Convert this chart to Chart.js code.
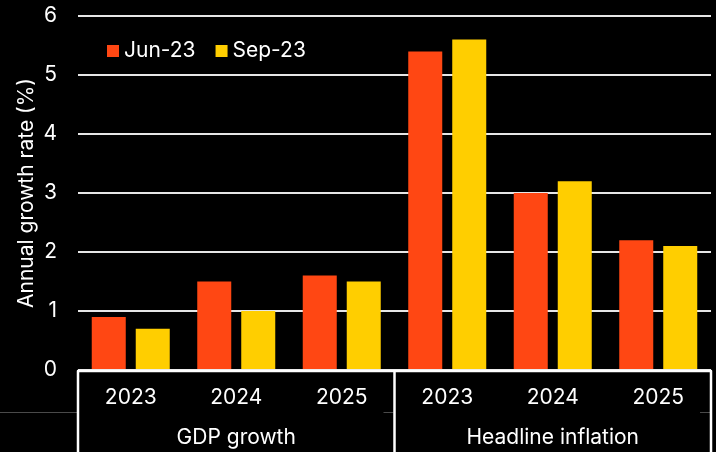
<!DOCTYPE html>
<html>
<head>
<meta charset="utf-8">
<script src="https://cdn.jsdelivr.net/npm/chart.js@4/dist/chart.umd.min.js"></script>
<style>
  html, body { margin: 0; padding: 0; background: #000; }
  #wrap { width: 716px; height: 452px; position: relative; }
</style>
</head>
<body>
<div id="wrap"><canvas id="c" width="716" height="452"></canvas></div>
<script>
// ---- Data ----
const categories = ['2023', '2024', '2025', '2023', '2024', '2025'];
const groups = ['GDP growth', 'Headline inflation'];
const groupSizes = [3, 3];
const seriesNames = ['Jun-23', 'Sep-23'];
const jun23 = [0.9, 1.5, 1.6, 5.4, 3.0, 2.2];
const sep23 = [0.7, 1.0, 1.5, 5.6, 3.2, 2.1];
const yTicks = [0, 1, 2, 3, 4, 5, 6];
const yTitle = 'Annual growth rate (%)';

// ---- Styles ----
const colors = ['#FF4713', '#FFCE00'];
const FONT = 'Inter, "Open Sans", sans-serif';
const WHITE = '#ffffff';

const boxPlugin = {
  id: 'boxPlugin',
  afterDraw(chart) {
    const ctx = chart.ctx;
    const ca = chart.chartArea;
    const xs = chart.scales.x;
    const H = chart.height;
    const bounds = [ca.left];
    let idx = 0;
    groupSizes.forEach((n) => {
      idx += n;
      if (idx < categories.length) {
        bounds.push((xs.getPixelForValue(idx - 1) + xs.getPixelForValue(idx)) / 2);
      } else {
        bounds.push(ca.right);
      }
    });
    ctx.save();
    // faint short lines
    ctx.strokeStyle = '#4a4a4a';
    ctx.lineWidth = 1;
    const fy = 412.5;
    ctx.beginPath();
    ctx.moveTo(0, fy); ctx.lineTo(ca.left - 1, fy);
    for (let i = 1; i < bounds.length; i++) {
      ctx.moveTo(bounds[i] - 11, fy); ctx.lineTo(bounds[i] - 1, fy);
    }
    ctx.stroke();
    // box
    ctx.strokeStyle = WHITE;
    ctx.lineWidth = 2.5;
    ctx.lineJoin = 'round';
    const top = ca.bottom + 1;
    ctx.beginPath();
    ctx.moveTo(bounds[0], H + 5);
    ctx.lineTo(bounds[0], top);
    ctx.lineTo(bounds[bounds.length - 1], top);
    ctx.lineTo(bounds[bounds.length - 1], H + 5);
    for (let i = 1; i < bounds.length - 1; i++) {
      ctx.moveTo(bounds[i], top);
      ctx.lineTo(bounds[i], H + 5);
    }
    ctx.stroke();
    // group labels
    ctx.fillStyle = WHITE;
    ctx.font = '21px ' + FONT;
    ctx.textAlign = 'center';
    ctx.textBaseline = 'middle';
    groups.forEach((g, i) => {
      ctx.fillText(g, (bounds[i] + bounds[i + 1]) / 2, 438);
    });
    // legend
    ctx.textAlign = 'left';
    let lx = ca.left + 29;
    const ly = 51;
    chart.data.datasets.forEach((ds) => {
      ctx.fillStyle = ds.backgroundColor;
      ctx.fillRect(lx, ly - 6, 12, 12);
      ctx.fillStyle = WHITE;
      ctx.fillText(ds.label, lx + 17, ly);
      lx += 17 + ctx.measureText(ds.label).width + 20;
    });
    ctx.restore();
  }
};

new Chart(document.getElementById('c'), {
  type: 'bar',
  data: {
    labels: categories,
    datasets: [
      { label: seriesNames[0], data: jun23, backgroundColor: colors[0], borderWidth: 0 },
      { label: seriesNames[1], data: sep23, backgroundColor: colors[1], borderWidth: 0 }
    ]
  },
  options: {
    responsive: false,
    animation: false,
    devicePixelRatio: 1,
    layout: { padding: { top: 0, right: 5, left: 0, bottom: 0 } },
    datasets: { bar: { categoryPercentage: 0.834, barPercentage: 0.773 } },
    plugins: {
      legend: { display: false },
      tooltip: { enabled: false },
      title: { display: false }
    },
    scales: {
      x: {
        grid: { display: false, drawTicks: false },
        border: { display: false },
        ticks: { color: WHITE, font: { family: FONT, size: 21 }, padding: 15, maxRotation: 0 },
        afterFit(scale) { scale.height = 82; }
      },
      y: {
        min: 0, max: 6,
        afterBuildTicks(scale) { scale.ticks = yTicks.map(v => ({ value: v })); },
        grid: { color: '#e6e6e6', lineWidth: 2, drawTicks: false },
        border: { display: false },
        ticks: { color: WHITE, font: { family: FONT, size: 21 }, padding: 21 },
        title: { display: true, text: yTitle, color: WHITE, font: { family: FONT, size: 21 }, padding: { top: 14, bottom: 0 } },
        afterFit(scale) { scale.width = 78; scale.paddingTop = 16; scale.paddingBottom = 0; }
      }
    }
  },
  plugins: [boxPlugin]
});
</script>
</body>
</html>
